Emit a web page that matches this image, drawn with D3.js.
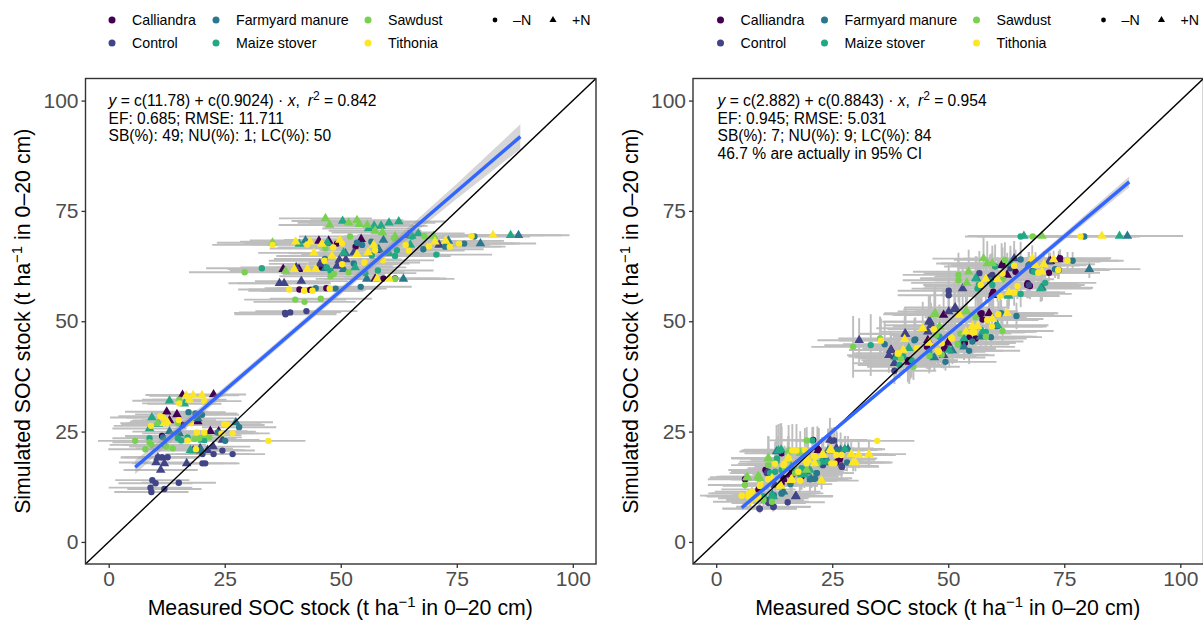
<!DOCTYPE html>
<html>
<head>
    <meta charset="utf-8" />
    <title>SOC stock measured vs simulated</title>
    <script src="https://cdn.jsdelivr.net/npm/d3@7/dist/d3.min.js"></script>
    <style>
        html, body { margin: 0; padding: 0; background: #fff; overflow: hidden; }
        text { font-family: "Liberation Sans", Arial, sans-serif; }
    </style>
</head>
<body>
<script>
// treatments and their legend colours
var treatments = ["Calliandra", "Control", "Farmyard manure", "Maize stover", "Sawdust", "Tithonia"];
var treatmentColors = ["#440154", "#414487", "#2A788E", "#22A884", "#7AD151", "#FDE725"];
var nLevels = ["\u2013N", "+N"];
var axisTicks = [0, 25, 50, 75, 100];

// left panel, points are [measured, simulated, x error]
var leftCalliandraMinus = [[41.1,57.2,11],[43.4,57.1,12],[46.9,57.5,11],[49.2,67.6,13],[53.2,66.9,12],[61.7,59.7,11],[59.2,59.7,12],[45.9,62.2,12],[19.2,20.8,8],[15.9,26.5,9],[11.5,24,8]];
var leftCalliandraPlus = [[37.6,61.8,12],[45.3,68.2,13],[47.4,68.2,12],[54.4,68.6,12],[41,61.8,12],[57.4,59.6,11],[15.9,33.3,8],[22.6,33.4,7],[12.5,29.5,9],[13.1,27.5,8],[14.7,28.9,9],[19.2,27.3,8],[21.9,25.1,8],[23.7,25,8]];
var leftControlMinus = [[38,51.9,11],[39.1,52,11],[42.6,52.3,11],[38.1,51.6,11],[10.6,19.2,8],[11.5,19.2,8],[12.7,19.2,7],[9.4,14,8],[10.1,13.3,8],[15.1,13.4,8],[9,12.3,9],[9.2,11.3,8],[12,12,8],[20.2,17.8,8],[20.8,17.8,7],[20.2,19.9,8],[22.6,19.9,8],[24.5,20.7,7],[26.7,19.9,7]];
var leftControlPlus = [[36.8,58.6,11],[37.8,58.6,10],[41.5,59.1,10],[40.4,62.2,12],[45.5,63,11],[49.2,62.5,12],[49.7,63.9,12],[51.1,64,12],[52.8,65.5,11],[64.6,69.5,11],[71.2,67.3,11],[57.8,66.1,12],[10.6,19.1,8],[10.2,18,8],[12,17.8,7],[11.2,16.3,8],[16.8,17.8,8],[18.2,20.7,8],[21.3,20.8,8],[22.5,21.6,8],[24.5,23.1,8],[19.7,21.2,7]];
var leftManureMinus = [[44.6,57.5,11],[48.9,57.4,11],[54.3,57.8,11],[56.6,68,12],[53.5,67.8,12],[78.8,69.2,12],[76.6,67.6,12],[72.5,66.9,12],[67.8,66.3,13],[52.8,63.1,12],[54.6,67.3,12],[46.6,64.1,11],[17.2,29.4,8],[20.1,28.8,8],[18.7,29.1,9],[28.1,26,8],[11.7,23.7,8],[25.1,22.9,8],[23.5,24.8,8]];
var leftManurePlus = [[42.4,68.3,12],[88.3,69.5,11],[80.1,67.6,12],[59.2,68.4,12],[58.2,66.3,12],[73.2,68.2,12],[55.6,59.6,11],[63.5,59.6,11],[46.7,62,12],[50.6,61.8,11],[47.2,67.7,12],[51,65.4,12],[19.2,28,8],[27.4,27.1,8],[13.1,25,8],[15.2,24.6,8],[19.9,20.8,8]];
var leftStoverMinus = [[33,62,12],[70.6,65.1,12],[61.7,64.8,12],[58,61.5,12],[62.1,66.1,12],[47,62.2,11],[47.8,61.4,11],[65.4,69.2,11],[55.3,60.9,11],[56.7,64.9,12],[8.8,23.5,8],[12,22,9],[15.6,23,8],[17,23.7,8],[14.9,23.5,8],[20.6,23.1,8]];
var leftStoverPlus = [[50.4,72.7,11],[56,71,10],[57.2,71.6,11],[58.7,71.6,10],[60.4,72.3,10],[62.5,72.6,10],[66.7,69.9,10],[65.3,69.3,11],[86.6,69.5,11],[47.1,67.8,12],[41.1,67.5,12],[50.6,65.5,12],[60.4,65.4,11],[53.1,62.2,11],[65,67.3,12],[13.1,32,8],[9.3,28.2,9],[10.7,26.7,8],[8.8,25.7,8],[16.3,31.3,8],[17.6,20.8,8],[20.2,23.1,8]];
var leftSawdustMinus = [[29.3,61.1,12],[40.2,54.9,11],[42.2,54.4,11],[45.7,55.1,11],[47.8,60.2,11],[48.5,60.7,11],[51.7,61.1,12],[52,69.2,11],[46.7,66.5,12],[61.7,59.6,11],[68,69.3,11],[61.5,68.8,12],[5.7,22.9,8],[8.8,22.6,8],[7.9,21,8],[9.2,22,9],[13.8,21.2,8],[12.4,21.6,8],[14.9,26.9,8],[18.5,23.3,8],[19.5,23.5,8],[20.6,24.2,8],[21.7,23.7,7],[15.2,32.2,8]];
var leftSawdustPlus = [[46.7,73.3,10],[47.6,71.8,11],[51.7,72.3,11],[53.5,72.9,10],[54,72,11],[55.7,71.8,10],[57.4,70.5,10],[59,70.1,11],[61.7,69.2,11],[70,69.3,11],[38.1,61.4,12],[35.3,67.8,12],[10.5,26.9,8]];
var leftTithoniaMinus = [[35.3,67.3,13],[42.8,67.4,12],[48.4,66.7,12],[50.3,67.6,12],[57.4,66.1,12],[46.5,63.7,12],[50.3,62.9,12],[55.1,63.3,12],[59.1,63.8,11],[64,67.3,12],[64.7,66,12],[69,67,12],[73.5,66.9,12],[75.5,67.6,12],[78.2,69.3,12],[38.9,57.2,11],[42.1,56.9,12],[43.9,56.9,11],[47.6,57.4,11],[15.2,31.4,8],[20.6,31.9,8],[11.1,28.5,9],[11.7,28.2,8],[15.1,27.6,8],[17.7,26.9,8],[12.4,26.9,8],[9.1,26.3,8],[19,24.8,8],[20.6,24.8,8],[24.9,26.7,8],[25.6,26.5,8],[26.7,24.6,8],[24.3,24.6,8],[34.4,22.9,8],[17,23,8],[18.8,21,8]];
var leftTithoniaPlus = [[40.3,68,12],[43.4,68,12],[45.9,67.5,12],[49.8,68.4,12],[44.2,65.5,12],[48.1,64.8,12],[53.5,65.2,12],[55.9,65.6,12],[40,61.8,12],[42.8,61.8,12],[44.6,61.8,12],[57.8,59.6,11],[60.4,59.6,11],[82.8,69.5,11],[70.3,68,11],[72.6,68.2,12],[57.1,67.3,12],[16.7,33.1,8],[18.2,33.2,7],[20.1,33.2,8],[17.4,32.2,8],[12,26.9,8],[12.6,27.3,8]];

// right panel, points are [measured, simulated, x error, y error]
var rightCalliandraMinus = [[56.9,51.6,12,4],[71.7,61,11,2],[64.5,61.2,12,5],[67,58.2,12,3],[59.2,59.3,12,6],[61.7,62.7,11,4],[49.1,43.8,11,4],[55.9,46.1,11,3],[53.4,45.1,11,3],[41.3,41.2,10,5],[57.4,50.4,12,3],[41.8,40.8,10,4],[45.4,44.2,10,5],[49.3,43.9,11,4],[53.6,45.1,11,3],[57.2,51.8,11,4],[74.1,64.3,11,2],[67.1,58.6,11,3],[67.6,58,11,3],[59.4,56,11,4],[59.7,56.7,11,4],[20.9,23.1,8,3],[21.8,21.2,8,5],[14.1,13.3,8,1],[25.9,18,8,3],[18.4,14.8,8,3],[14.1,20.1,8,6],[9.1,11.9,8,1],[6.2,14.2,8,2],[14.5,14.4,9,3],[22.1,20.8,8,5],[26.7,18.9,8,3],[10.6,16.3,8,3],[16.7,15.5,9,3]];
var rightCalliandraPlus = [[49,51.4,11,6],[58.8,51.8,12,5],[73.8,64,11,2],[62.7,60.5,11,5],[59.5,55.9,11,4],[54.5,46.4,11,3],[41.6,40.8,10,5],[37.7,43.5,9,4],[45.6,45.7,10,5],[49.9,45.1,11,4],[22,20.8,8,5],[15.9,15.2,8,3],[26.3,18.6,8,3],[14.5,14.2,8,2],[72,63.6,11,2],[61.5,62.7,11,5]];
var rightControlMinus = [[50.1,56.9,11,6],[50.1,55.9,11,5],[56.7,60.9,12,5],[38.4,38.8,9,3],[63.4,62,11,4],[67.4,58.2,12,3],[59.5,60.5,12,5],[59,60.1,12,5],[9.4,7.5,8,1],[12.3,7.9,8,1],[15.4,9,8,1],[25.4,23,8,3],[27,17.2,8,3],[11.2,15.9,8,3],[10.9,9.5,8,1],[23,17.4,8,3],[9.3,7.6,8,1],[12.4,8,8,1],[11.3,8.8,8,1],[10.2,9.5,8,2],[10.9,15.6,8,3],[24.9,22.9,8,3],[27.1,17,8,2]];
var rightControlPlus = [[53.1,57.4,11,5],[50.1,52.2,11,6],[51.3,52.7,11,6],[45.8,49.9,10,6],[46.3,49.1,10,5],[40.8,47.1,10,6],[30.8,45.7,9,5],[37.2,42.3,9,4],[38.4,40.5,9,3],[64.2,64.2,11,4],[71.7,63.5,11,2],[45.6,47.6,10,5],[38.5,42,10,4],[37.6,43.5,9,4],[40.7,47.2,10,5],[46.1,49.9,10,6],[51.5,53.1,11,6],[49,42.3,11,3],[17.1,10.3,8,1],[11.5,9.1,8,1],[12.7,12.9,8,2],[25.9,21.2,8,4],[24.5,23.1,8,5],[24.1,18,8,3],[17.2,10.4,8,1]];
var rightManureMinus = [[76.8,63.7,11,2],[73.8,61.6,11,2],[68.1,61.4,12,3],[64.7,51.2,12,3],[61.4,51.8,12,3],[49.4,40.8,11,2],[42.7,45.7,10,5],[36.3,44.8,9,5],[59.2,46.4,11,3],[54.5,43.3,11,3],[55.2,45.4,11,3],[65.6,64,11,4],[79.3,69.2,12,0],[42.9,45.9,10,5],[73,61.8,11,2],[67.3,62.7,11,3],[59,59.3,12,5],[56.9,57.8,12,4],[21.6,15.6,8,3],[20.2,14.2,8,3],[23.4,18.2,8,3],[16.2,14,9,2],[11.9,9.9,8,1],[14.1,11,8,1],[12.4,10.6,9,1],[14.1,11,9,1],[16,13.1,9,2],[20.2,14.4,9,2],[21.3,14.4,8,3],[21.7,15.6,8,3],[13.8,20.8,8,6],[26,20.8,8,4],[27.8,21,8,3],[28.2,18,8,2],[23.5,18.6,8,3]];
var rightManurePlus = [[80.4,61.8,11,2],[47,41.8,11,3],[50.9,43.3,11,3],[53.4,44.2,11,3],[67.4,62.7,11,3],[60.2,48.8,11,3],[57,46.5,11,3],[88.6,69.3,12,0],[70.2,57.6,11,3],[56.1,59.7,12,5],[26.8,20.8,8,4],[28.4,21,8,3],[14.5,11.4,8,1],[12.1,10.6,8,1],[24.1,20.7,8,5],[20.5,14.2,8,2],[13,20.5,8,6],[19.5,15.9,8,3]];
var rightStoverMinus = [[33.3,44.6,10,7],[65.6,56.2,11,3],[70.9,58.7,11,3],[68.5,61.2,11,3],[56.3,57.4,12,5],[56.6,58.2,12,5],[59.5,58.2,11,4],[58.1,47.6,11,3],[45.9,43.1,10,4],[39.5,40.1,9,3],[48.1,46.5,10,4],[65.6,69.2,12,0],[40.3,42,10,4],[42.1,41.2,10,4],[46.1,42.1,10,3],[52.2,44.8,11,3],[60.1,62.4,11,5],[20.7,23,8,3],[13,18.2,8,5],[14.1,16.3,8,4],[11.6,15.6,8,3],[10.2,10.3,8,1],[18.4,16.7,8,4],[10.2,10.3,9,1],[12,10.6,8,1],[13.1,18.9,8,5],[18.1,15.2,8,3],[19.2,16.3,8,3],[12.7,15.9,9,3],[22.1,17.8,8,3],[23.9,18.2,8,3]];
var rightStoverPlus = [[55.9,59.7,12,5],[69.9,57.4,11,3],[62.9,55.9,11,3],[60.6,49.1,11,3],[38.8,41.8,9,4],[41.5,43.9,10,4],[50.2,43.5,10,4],[53.4,46.1,11,3],[57.4,47.6,11,3],[63.4,63.1,11,4],[66.3,69.3,12,0],[86.9,69.3,12,0],[63,55.7,11,3],[13.4,20.7,8,6],[14,20.9,8,6],[20.2,16.3,8,3],[19,15.2,8,3],[12.3,10.3,8,1],[22.7,18.2,8,3],[27.7,21,8,3],[16.2,17,8,4]];
var rightSawdustMinus = [[52.2,60.5,12,5],[52.2,59.3,12,5],[62.2,63.9,11,4],[61.8,59.5,11,4],[58.1,46.5,11,3],[61.7,47.8,11,3],[55.9,50.9,11,4],[35.3,46.1,9,5],[29.5,44.2,9,7],[52,44.8,11,3],[45.9,42.2,10,4],[48.6,42.4,10,3],[42.5,39.7,10,3],[39.8,41.6,9,4],[47.4,46.9,10,5],[52.6,47.2,11,4],[68.2,69.2,12,0],[19.5,23,8,3],[6.2,12.9,8,1],[11.2,17.4,8,4],[21.8,17.8,8,4],[12,9.1,8,1],[10.2,9.5,8,1],[14.8,16.7,8,4],[17,15.6,8,3]];
var rightSawdustPlus = [[57.6,64.2,11,5],[58.4,63.1,11,5],[59.5,63.1,11,4],[54.4,61.2,12,5],[54,58.7,12,4],[47,51.6,11,6],[53.8,52.2,11,5],[48.1,48.8,10,5],[70.2,69.3,12,0],[47.2,51.8,11,6],[54,52.2,11,5],[6.8,14.6,8,1],[9.4,14.4,8,2],[11.2,19,8,5],[15.4,18.6,8,4],[9,14.8,8,2],[17.3,15.9,8,3],[9.1,14.8,9,2],[11.3,18.9,8,5],[15.6,20.5,8,6],[18.1,20.1,8,5],[19.5,16.3,8,3],[6.6,14.6,8,2]];
var rightTithoniaMinus = [[35.5,45.6,9,5],[75.7,63.7,11,2],[73.7,61.6,11,2],[69.4,61,12,3],[64.2,62.6,11,4],[64.9,58,11,3],[64.2,56.5,11,3],[61.2,55.7,11,3],[60.8,51.6,12,3],[58.4,50.3,11,3],[59.4,48.8,11,3],[55.2,47.5,11,4],[50.6,46.4,10,4],[46.9,48.2,10,5],[48.6,45,10,3],[47.7,43.3,10,3],[39.1,42.7,9,4],[43.2,43.9,10,4],[57,58.2,12,5],[61.7,60.8,11,4],[78.5,69.2,12,0],[39.3,42.7,10,4],[48,43.1,10,3],[50.8,46.1,10,4],[55.6,47.5,11,3],[34.7,22.9,8,0],[5.5,10.5,8,1],[7,11,8,1],[7.7,11.4,8,1],[9.4,12.7,8,1],[12.7,17.7,8,5],[16.4,20.7,8,6],[17.3,20.7,8,6],[19.1,20.8,8,5],[21,19.5,8,4],[24.8,17.8,8,3],[25.5,17.8,8,3],[25.9,19.7,8,3],[27,19.7,8,3],[18,13.9,8,3],[11.2,14.2,8,3],[7.3,9.1,8,1],[8.4,9.9,8,1],[14.7,17.8,8,4],[19.5,17.8,8,4],[5.5,10.5,9,1],[7,10.3,9,1],[7.3,11,9,1],[9.5,12.9,8,2],[11.3,14.2,8,3],[21.3,19.3,8,4],[17.7,15.9,8,3],[18.1,13.9,8,2],[9.1,10.3,8,1],[14.5,17.4,8,4],[15.6,18.9,8,5]];
var rightTithoniaPlus = [[72.7,64,11,2],[68.1,64.2,11,3],[70.6,62.9,11,3],[70.2,61.2,11,3],[68.8,62.7,11,3],[58.1,59.6,12,5],[60.6,59.5,11,5],[63.1,56.5,11,3],[62.7,51.8,11,3],[52.4,51.4,11,5],[44.5,48.4,10,6],[40.6,45.9,10,5],[55.2,48.9,11,4],[56.3,48.9,11,4],[59.5,50.5,11,3],[53.8,47.6,11,4],[45.9,45.1,10,4],[40.3,43.5,10,4],[83.1,69.3,12,0],[32.9,19.9,8,3],[30.7,19.7,8,3],[29.1,19.9,8,3],[29.5,18,8,2],[30,18,8,2],[24.8,20.8,8,5],[22.8,19.7,8,4],[22.7,13.9,8,2],[16.1,14,8,3],[13.9,12.7,8,2],[12,14.4,8,3],[19.8,18.6,8,4],[15.5,19,8,5],[21.2,17.8,8,4],[24.6,21,8,4],[23.1,19.7,8,4],[19.5,18.6,8,4],[16.3,14.2,8,3],[13.8,12.9,8,2]];

// printed regressions and a read-off 95% band half width
var leftFit = [11.78, 0.9024];
var rightFit = [2.882, 0.8843];
var leftFitX = [5.7, 15, 30, 45, 60, 75, 88.7];
var leftBand = [1.6, 1.0, 0.8, 0.8, 1.0, 1.7, 2.8];
var rightFitX = [5.5, 15, 30, 45, 60, 75, 89];
var rightBand = [0.7, 0.5, 0.4, 0.4, 0.5, 0.8, 1.2];

var leftNotes = ["EF: 0.685; RMSE: 11.711", "SB(%): 49; NU(%): 1; LC(%): 50"];
var rightNotes = ["EF: 0.945; RMSE: 5.031", "SB(%): 7; NU(%): 9; LC(%): 84", "46.7 % are actually in 95% CI"];

var width = 1203, height = 620;
var svg = d3.select("body").append("svg")
    .attr("width", width)
    .attr("height", height)
    .style("display", "block");

var clipId = 0;

drawPanel({
    left: 85.5, right: 596, top: 78.5, bottom: 564, textX: 108.5,
    offset: 0, eq: ["11.78", "0.9024", "0.842"], notes: leftNotes,
    fit: leftFit, fitX: leftFitX, band: leftBand,
    minus: [leftCalliandraMinus, leftControlMinus, leftManureMinus, leftStoverMinus, leftSawdustMinus, leftTithoniaMinus],
    plus: [leftCalliandraPlus, leftControlPlus, leftManurePlus, leftStoverPlus, leftSawdustPlus, leftTithoniaPlus]
});
drawPanel({
    left: 693, right: 1203.5, top: 78.5, bottom: 564, textX: 717.5,
    offset: 608.5, eq: ["2.882", "0.8843", "0.954"], notes: rightNotes,
    fit: rightFit, fitX: rightFitX, band: rightBand,
    minus: [rightCalliandraMinus, rightControlMinus, rightManureMinus, rightStoverMinus, rightSawdustMinus, rightTithoniaMinus],
    plus: [rightCalliandraPlus, rightControlPlus, rightManurePlus, rightStoverPlus, rightSawdustPlus, rightTithoniaPlus]
});

function drawPanel(p) {
    var x = d3.scaleLinear().domain([-5, 105]).range([p.left, p.right]);
    var y = d3.scaleLinear().domain([-5, 105]).range([p.bottom, p.top]);
    var id = "clip" + (clipId++);

    svg.append("clipPath").attr("id", id).append("rect")
        .attr("x", p.left).attr("y", p.top)
        .attr("width", p.right - p.left).attr("height", p.bottom - p.top);

    var plot = svg.append("g").attr("clip-path", "url(#" + id + ")");

    // flatten the series, errors first, then the markers
    var points = [];
    p.minus.forEach(function(s, i) {
        s.forEach(function(d) { points.push({d: d, t: i, shape: d3.symbolCircle, size: 32}); });
    });
    p.plus.forEach(function(s, i) {
        s.forEach(function(d) { points.push({d: d, t: i, shape: d3.symbolTriangle, size: 40}); });
    });
    points.sort(function(a, b) { return a.t - b.t; });

    plot.selectAll("line.xerr").data(points).enter().append("line")
        .attr("class", "xerr")
        .attr("x1", function(o) { return x(o.d[0] - o.d[2]); })
        .attr("x2", function(o) { return x(o.d[0] + o.d[2]); })
        .attr("y1", function(o) { return y(o.d[1]); })
        .attr("y2", function(o) { return y(o.d[1]); })
        .attr("stroke", "#bebebe").attr("stroke-width", 1.9);

    plot.selectAll("line.yerr").data(points.filter(function(o) { return o.d[3] > 0; })).enter().append("line")
        .attr("class", "yerr")
        .attr("x1", function(o) { return x(o.d[0]); })
        .attr("x2", function(o) { return x(o.d[0]); })
        .attr("y1", function(o) { return y(o.d[1] - o.d[3]); })
        .attr("y2", function(o) { return y(o.d[1] + o.d[3]); })
        .attr("stroke", "#bebebe").attr("stroke-width", 1.9);

    plot.selectAll("path.pt").data(points).enter().append("path")
        .attr("class", "pt")
        .attr("d", function(o) { return d3.symbol().type(o.shape).size(o.size)(); })
        .attr("transform", function(o) { return "translate(" + x(o.d[0]) + "," + y(o.d[1]) + ")"; })
        .attr("fill", function(o) { return treatmentColors[o.t]; });

    // 1:1 line
    plot.append("line")
        .attr("x1", x(-5)).attr("y1", y(-5))
        .attr("x2", x(105)).attr("y2", y(105))
        .attr("stroke", "#000").attr("stroke-width", 1.4);

    // regression band and line
    var fitY = function(v) { return p.fit[0] + p.fit[1] * v; };
    var area = d3.area()
        .x(function(v) { return x(v); })
        .y0(function(v, i) { return y(fitY(v) - p.band[i]); })
        .y1(function(v, i) { return y(fitY(v) + p.band[i]); });
    plot.append("path").attr("d", area(p.fitX))
        .attr("fill", "#999999").attr("fill-opacity", 0.4);
    plot.append("line")
        .attr("x1", x(p.fitX[0])).attr("y1", y(fitY(p.fitX[0])))
        .attr("x2", x(p.fitX[p.fitX.length - 1])).attr("y2", y(fitY(p.fitX[p.fitX.length - 1])))
        .attr("stroke", "#3366FF").attr("stroke-width", 3.4);

    svg.append("rect")
        .attr("x", p.left).attr("y", p.top)
        .attr("width", p.right - p.left).attr("height", p.bottom - p.top)
        .attr("fill", "none").attr("stroke", "#333").attr("stroke-width", 1.4);

    // axes
    var xAxis = d3.axisBottom(x).tickValues(axisTicks).tickSize(4).tickPadding(3);
    var yAxis = d3.axisLeft(y).tickValues(axisTicks).tickSize(4).tickPadding(3);
    var gx = svg.append("g").attr("transform", "translate(0," + p.bottom + ")").call(xAxis);
    var gy = svg.append("g").attr("transform", "translate(" + p.left + ",0)").call(yAxis);
    [gx, gy].forEach(function(g) {
        g.select(".domain").remove();
        g.selectAll("line").attr("stroke", "#333").attr("stroke-width", 1.3);
        g.selectAll("text").attr("fill", "#4D4D4D").style("font-size", "21px")
            .style("font-family", "'Liberation Sans', Arial, sans-serif");
    });

    // axis titles
    var cx = (p.left + p.right) / 2 - 0.5;
    axisTitle(svg.append("text").attr("x", cx).attr("y", 615), "Measured SOC stock (t ha");
    var cy = (p.top + p.bottom) / 2;
    axisTitle(svg.append("text").attr("transform", "translate(" + (p.left - 55.5) + "," + cy + ") rotate(-90)"), "Simulated SOC stock (t ha");

    // equation and stats
    var eq = svg.append("text").attr("x", p.textX).attr("y", 106).style("font-size", "15.6px").attr("fill", "#000");
    eq.append("tspan").style("font-style", "italic").text("y");
    eq.append("tspan").text(" = c(" + p.eq[0] + ") + c(" + p.eq[1] + ") \u00b7 ");
    eq.append("tspan").style("font-style", "italic").text("x");
    eq.append("tspan").text(",");
    eq.append("tspan").attr("dx", 8).style("font-style", "italic").text("r");
    eq.append("tspan").attr("dy", -6).style("font-size", "12px").text("2");
    eq.append("tspan").attr("dy", 6).text(" = " + p.eq[2]);
    p.notes.forEach(function(n, i) {
        svg.append("text").attr("x", p.textX).attr("y", 123.5 + i * 17.8)
            .style("font-size", "15.6px").attr("fill", "#000").text(n);
    });

    // legend
    var legend = svg.append("g").attr("transform", "translate(" + p.offset + ",0)");
    var legendX = [112, 112, 216, 216, 368, 368];
    var legendY = [20, 43, 20, 43, 20, 43];
    treatments.forEach(function(t, i) {
        legend.append("circle").attr("cx", legendX[i]).attr("cy", legendY[i]).attr("r", 3.5)
            .attr("fill", treatmentColors[i]);
        legend.append("text").attr("x", legendX[i] + 20).attr("y", legendY[i] + 5)
            .style("font-size", "14.2px").attr("fill", "#000").text(t);
    });
    legend.append("circle").attr("cx", 495).attr("cy", 20).attr("r", 2.4).attr("fill", "#000");
    legend.append("text").attr("x", 513).attr("y", 25).style("font-size", "14.2px").text(nLevels[0]);
    legend.append("path").attr("d", d3.symbol().type(d3.symbolTriangle).size(22)())
        .attr("transform", "translate(553,20)").attr("fill", "#000");
    legend.append("text").attr("x", 572).attr("y", 25).style("font-size", "14.2px").text(nLevels[1]);
}

function axisTitle(sel, lead) {
    sel.attr("text-anchor", "middle").style("font-size", "21.3px").attr("fill", "#000");
    sel.append("tspan").text(lead);
    sel.append("tspan").attr("dy", -8).style("font-size", "15px").text("\u22121");
    sel.append("tspan").attr("dy", 8).text(" in 0\u201320 cm)");
}
</script>
</body>
</html>
